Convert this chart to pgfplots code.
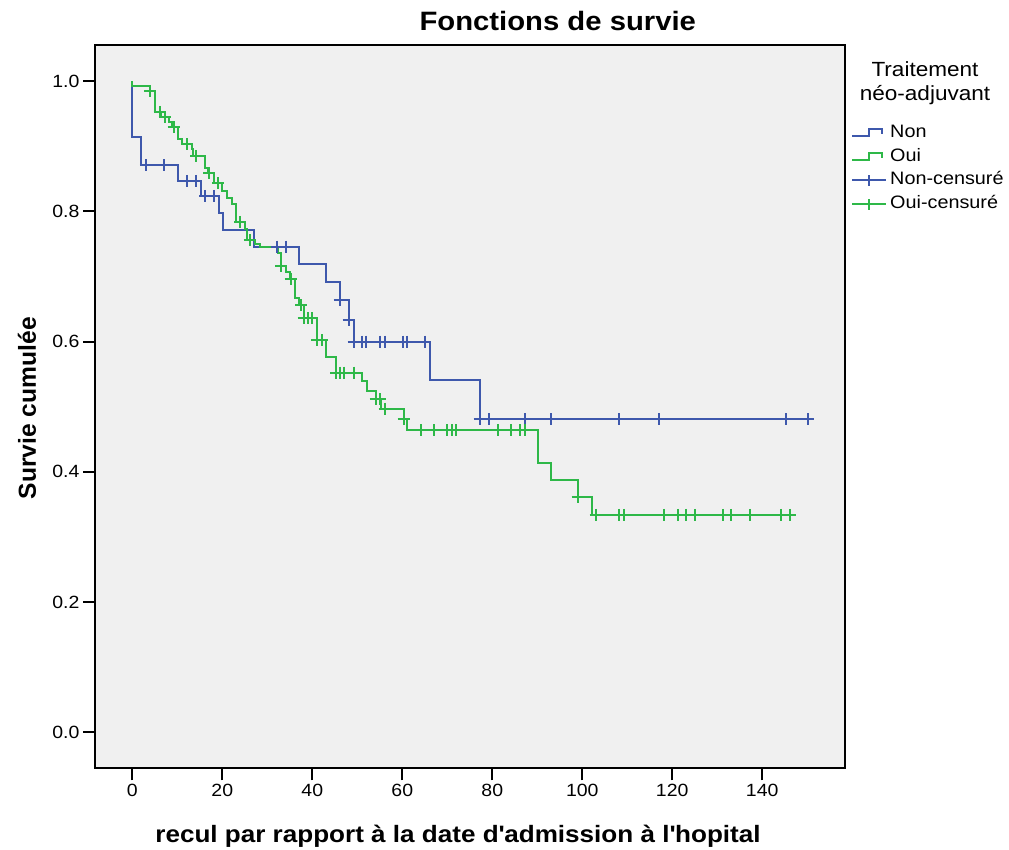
\documentclass[border=0pt]{standalone}
\usepackage{fontspec}
\setmainfont{Liberation Sans}[FakeStretch=1.1]
\newfontfamily\yfont{Liberation Sans}
\usepackage{pgfplots}
\pgfplotsset{compat=1.18}
\definecolor{nonblue}{HTML}{3E58AC}
\definecolor{ouigreen}{HTML}{2EB848}
\definecolor{panel}{HTML}{F0F0F0}

\begin{document}
\begin{tikzpicture}
\path[use as bounding box] (0pt,0pt) rectangle (1009pt,849pt);
\begin{axis}[
    name=km,
    at={(95pt,80.7pt)}, anchor=south west,
    width=750pt, height=723.3pt, scale only axis,
    xmin=-8.29, xmax=158.4, ymin=-0.0553, ymax=1.0557,
    axis line style={line width=2pt, black},
    axis background/.style={fill=panel},
    xtick={0,20,...,140}, ytick={0,0.2,0.4,0.6,0.8,1.0},
    tick pos=left, tick align=outside, major tick length=12pt,
    tick style={line width=2pt, black},
    /pgf/number format/assume math mode=true,
    yticklabel style={/pgf/number format/.cd, fixed, fixed zerofill, precision=1},
    ticklabel style={font=\fontsize{17.7}{20}\selectfont},
    title={Fonctions de survie},
    title style={font=\fontsize{26.6}{30}\selectfont\bfseries, at={(rel axis cs:0.617,1.0245)}, anchor=center},
    xlabel={recul par rapport à la date d\textquotesingle admission à l\textquotesingle hopital},
    xlabel style={font=\fontsize{23.7}{28}\selectfont\bfseries, at={(rel axis cs:0.484,-0.0945)}, anchor=center},
    ylabel={Survie cumulée},
    ylabel style={font=\yfont\fontsize{24.6}{28}\selectfont\bfseries, at={(rel axis cs:-0.0907,0.498)}, anchor=center},
    legend cell align=left,
    legend style={at={(1,1)}, anchor=north west, xshift=6pt, yshift=-79.3pt,
        draw=none, fill=none, inner sep=0pt, row sep=6.7pt,
        font=\fontsize{18}{22}\selectfont,
        nodes={inner sep=0pt, inner xsep=3pt, text height=13pt, text depth=4pt}},
]
% Non
\addplot[nonblue, line width=2pt, const plot,
    legend image code/.code={\draw[nonblue, line width=2pt] (0pt,-3pt) -- (17pt,-3pt) -- (17pt,3.5pt) -- (30pt,3.5pt) -- (30pt,-1.5pt);}]
coordinates {
(0,1.0) (0,0.915) (2.0,0.871) (10.1,0.847) (15.2,0.824) (19.2,0.798) (20.1,0.772)
(27.1,0.746) (37.1,0.719) (43.1,0.692) (46.2,0.664) (48.2,0.633) (49.2,0.600)
(66.1,0.541) (77.2,0.481) (150.2,0.481)
};
\addlegendentry{Non}
% Oui
\addplot[ouigreen, line width=2pt, const plot,
    legend image code/.code={\draw[ouigreen, line width=2pt] (0pt,-3pt) -- (17pt,-3pt) -- (17pt,3.5pt) -- (30pt,3.5pt) -- (30pt,-1.5pt);}]
coordinates {
(0,1.0) (0,0.993) (4.0,0.985) (5.1,0.953) (6.4,0.945) (8.2,0.937) (8.8,0.929)
(10.1,0.911) (11.0,0.903) (13.3,0.896) (13.6,0.885) (16.2,0.866) (16.9,0.859)
(18.1,0.843) (20.0,0.831) (21.0,0.821) (22.1,0.811) (23.0,0.784) (25.1,0.773)
(25.6,0.756) (27.3,0.750) (28.3,0.745) (32.3,0.736) (33.0,0.717) (34.1,0.707)
(35.1,0.697) (36.1,0.667) (37.1,0.656) (38.1,0.636) (41.0,0.602) (43.1,0.577)
(45.3,0.5525) (51.1,0.540) (52.2,0.525) (54.1,0.5115) (55.2,0.497) (60.3,0.481)
(61.0,0.464) (90.2,0.413) (93.1,0.387) (99.0,0.3615) (102.1,0.334) (146.2,0.334)
};
\addlegendentry{Oui}
% Non censored
\addplot[only marks, mark=+, mark size=6pt, nonblue, mark options={line width=2pt},
    legend image code/.code={\draw[nonblue, line width=2pt] (0pt,0pt) -- (34pt,0pt); \draw[nonblue, line width=2pt] (17pt,-5.5pt) -- (17pt,5.5pt);}]
coordinates {
(3.0,0.871) (7.1,0.871) (12.2,0.847) (14.1,0.847) (16.2,0.824) (18.2,0.824)
(32.1,0.746) (34.2,0.746) (46.1,0.664) (48.1,0.633) (49.2,0.600) (51.0,0.600)
(52.0,0.600) (55.1,0.600) (56.1,0.600) (60.1,0.600) (61.0,0.600) (65.1,0.600)
(77.2,0.481) (79.2,0.481) (87.2,0.481) (93.1,0.481) (108.2,0.481) (117.1,0.481)
(145.3,0.481) (150.2,0.481)
};
\addlegendentry{Non-censuré}
% Oui censored
\addplot[only marks, mark=+, mark size=6pt, ouigreen, mark options={line width=2pt},
    legend image code/.code={\draw[ouigreen, line width=2pt] (0pt,0pt) -- (34pt,0pt); \draw[ouigreen, line width=2pt] (17pt,-5.5pt) -- (17pt,5.5pt);}]
coordinates {
(4.0,0.985) (6.1,0.953) (7.2,0.945) (9.2,0.929) (12.2,0.903) (14.2,0.885)
(17.1,0.859) (19.0,0.843) (24.0,0.784) (26.1,0.756) (33.1,0.717) (35.2,0.697)
(37.6,0.656) (38.1,0.636) (39.0,0.636) (39.9,0.636) (41.0,0.602) (42.1,0.602)
(45.3,0.5525) (46.2,0.5525) (47.1,0.5525) (49.2,0.5525) (54.1,0.5115) (55.1,0.5115)
(56.1,0.497) (60.3,0.481) (64.2,0.464) (67.1,0.464) (69.9,0.464) (71.0,0.464)
(72.0,0.464) (81.3,0.464) (84.2,0.464) (86.2,0.464) (87.2,0.464) (99.0,0.3615)
(103.0,0.334) (108.2,0.334) (109.2,0.334) (118.2,0.334) (121.2,0.334) (123.1,0.334)
(125.1,0.334) (131.2,0.334) (133.1,0.334) (137.3,0.334) (144.2,0.334) (146.2,0.334)
};
\addlegendentry{Oui-censuré}
\end{axis}
\node[align=center, inner sep=0pt, font=\fontsize{20.5}{24.3}\selectfont] at (925pt,766pt) {Traitement\\néo-adjuvant};
\end{tikzpicture}
\end{document}
